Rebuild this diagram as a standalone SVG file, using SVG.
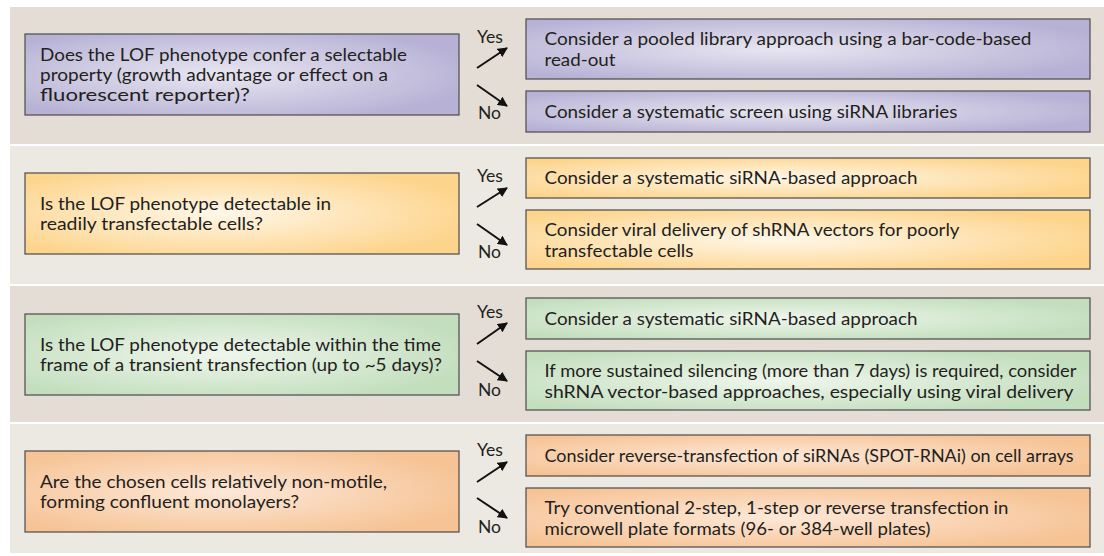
<svg xmlns="http://www.w3.org/2000/svg" width="1104" height="556" viewBox="0 0 1104 556">
<style>
.bgA{fill:#e4ddd6}
.bgB{fill:#ece9e3}
.box{stroke:#4d4a4a;stroke-width:1.2}
.t{font-family:Lato,"Open Sans","Liberation Sans",sans-serif;font-size:16.5px;fill:#231f20}
.a{font-family:Lato,"Open Sans","Liberation Sans",sans-serif;font-size:17px;fill:#231f20}
.lab{font-family:Lato,"Open Sans","Liberation Sans",sans-serif;font-size:16.5px;fill:#231f20}
.arr{stroke:#111;stroke-width:2;fill:none;marker-end:url(#ah)}
</style>
<defs>
<marker id="ah" viewBox="0 0 10 10" refX="9" refY="5" markerWidth="10" markerHeight="10" markerUnits="userSpaceOnUse" orient="auto">
<path d="M0,0 L10,5 L0,10 z" fill="#111"/>
</marker>
<radialGradient id="gP" cx="0.45" cy="0.5" r="0.6"><stop offset="0" stop-color="#e8e6f1"/><stop offset="1" stop-color="#b7b2d5"/></radialGradient>
<radialGradient id="gY" cx="0.45" cy="0.5" r="0.6"><stop offset="0" stop-color="#fff7e8"/><stop offset="1" stop-color="#fdd48c"/></radialGradient>
<radialGradient id="gG" cx="0.45" cy="0.5" r="0.6"><stop offset="0" stop-color="#eff6ec"/><stop offset="1" stop-color="#c2debd"/></radialGradient>
<radialGradient id="gO" cx="0.45" cy="0.5" r="0.6"><stop offset="0" stop-color="#fde8d8"/><stop offset="1" stop-color="#f6c395"/></radialGradient>
</defs>
<rect width="1104" height="556" fill="#ffffff"/>
<g id="panels">
<rect class="bgA" x="10" y="7" width="1094" height="137"/>
<rect class="bgB" x="10" y="146" width="1094" height="138"/>
<rect class="bgA" x="10" y="286" width="1094" height="136"/>
<rect class="bgB" x="10" y="424" width="1094" height="129"/>
</g>
<g id="q1">
<rect class="box" x="25" y="34" width="434" height="81" fill="url(#gP)"/>
<text class="t" x="40" y="60.5" textLength="367" lengthAdjust="spacingAndGlyphs">Does the LOF phenotype confer a selectable</text>
<text class="t" x="40" y="80.5" textLength="348" lengthAdjust="spacingAndGlyphs">property (growth advantage or effect on a</text>
<text class="t" x="40" y="100.5" textLength="210" lengthAdjust="spacingAndGlyphs">fluorescent reporter)?</text>
</g>
<g id="a1yes">
<rect class="box" x="526" y="19" width="564" height="60" fill="url(#gP)"/>
<text class="a" x="544.5" y="45" textLength="487" lengthAdjust="spacingAndGlyphs">Consider a pooled library approach using a bar-code-based</text>
<text class="a" x="544.5" y="66" textLength="71" lengthAdjust="spacingAndGlyphs">read-out</text>
</g>
<g id="a1no">
<rect class="box" x="526" y="91" width="564" height="41" fill="url(#gP)"/>
<text class="a" x="544.5" y="117.5" textLength="413" lengthAdjust="spacingAndGlyphs">Consider a systematic screen using siRNA libraries</text>
</g>
<g id="q2">
<rect class="box" x="25" y="173" width="434" height="81" fill="url(#gY)"/>
<text class="t" x="40" y="209.5" textLength="291" lengthAdjust="spacingAndGlyphs">Is the LOF phenotype detectable in</text>
<text class="t" x="40" y="229.5" textLength="223" lengthAdjust="spacingAndGlyphs">readily transfectable cells?</text>
</g>
<g id="a2yes">
<rect class="box" x="526" y="158" width="564" height="40" fill="url(#gY)"/>
<text class="a" x="544.5" y="184" textLength="373" lengthAdjust="spacingAndGlyphs">Consider a systematic siRNA-based approach</text>
</g>
<g id="a2no">
<rect class="box" x="526" y="210" width="564" height="59" fill="url(#gY)"/>
<text class="a" x="544.5" y="235.5" textLength="415" lengthAdjust="spacingAndGlyphs">Consider viral delivery of shRNA vectors for poorly</text>
<text class="a" x="544.5" y="256.5" textLength="149" lengthAdjust="spacingAndGlyphs">transfectable cells</text>
</g>
<g id="q3">
<rect class="box" x="25" y="314" width="434" height="81" fill="url(#gG)"/>
<text class="t" x="40" y="350.5" textLength="401" lengthAdjust="spacingAndGlyphs">Is the LOF phenotype detectable within the time</text>
<text class="t" x="40" y="370.5" textLength="402" lengthAdjust="spacingAndGlyphs">frame of a transient transfection (up to ~5 days)?</text>
</g>
<g id="a3yes">
<rect class="box" x="526" y="298" width="564" height="41" fill="url(#gG)"/>
<text class="a" x="544.5" y="324.5" textLength="373" lengthAdjust="spacingAndGlyphs">Consider a systematic siRNA-based approach</text>
</g>
<g id="a3no">
<rect class="box" x="526" y="351" width="564" height="59" fill="url(#gG)"/>
<text class="a" x="544.5" y="376.5" textLength="532" lengthAdjust="spacingAndGlyphs">If more sustained silencing (more than 7 days) is required, consider</text>
<text class="a" x="544.5" y="397.5" textLength="529" lengthAdjust="spacingAndGlyphs">shRNA vector-based approaches, especially using viral delivery</text>
</g>
<g id="q4">
<rect class="box" x="25" y="451" width="434" height="81" fill="url(#gO)"/>
<text class="t" x="40" y="487.5" textLength="347" lengthAdjust="spacingAndGlyphs">Are the chosen cells relatively non-motile,</text>
<text class="t" x="40" y="507.5" textLength="259" lengthAdjust="spacingAndGlyphs">forming confluent monolayers?</text>
</g>
<g id="a4yes">
<rect class="box" x="526" y="435" width="564" height="41" fill="url(#gO)"/>
<text class="a" x="544.5" y="461.5" textLength="529" lengthAdjust="spacingAndGlyphs">Consider reverse-transfection of siRNAs (SPOT-RNAi) on cell arrays</text>
</g>
<g id="a4no">
<rect class="box" x="526" y="488" width="564" height="59" fill="url(#gO)"/>
<text class="a" x="544.5" y="513.5" textLength="464" lengthAdjust="spacingAndGlyphs">Try conventional 2-step, 1-step or reverse transfection in</text>
<text class="a" x="544.5" y="534.5" textLength="386" lengthAdjust="spacingAndGlyphs">microwell plate formats (96- or 384-well plates)</text>
</g>
<g id="connectors">
<line class="arr" x1="477" y1="68" x2="507" y2="48"/>
<line class="arr" x1="477" y1="85" x2="507" y2="106"/>
<text class="lab" x="477" y="43" textLength="26" lengthAdjust="spacingAndGlyphs">Yes</text>
<text class="lab" x="478" y="119" textLength="23" lengthAdjust="spacingAndGlyphs">No</text>
<line class="arr" x1="477" y1="207" x2="507" y2="188"/>
<line class="arr" x1="477" y1="224" x2="507" y2="245"/>
<text class="lab" x="477" y="182" textLength="26" lengthAdjust="spacingAndGlyphs">Yes</text>
<text class="lab" x="478" y="258" textLength="23" lengthAdjust="spacingAndGlyphs">No</text>
<line class="arr" x1="477" y1="344" x2="507" y2="323"/>
<line class="arr" x1="477" y1="361" x2="507" y2="381"/>
<text class="lab" x="477" y="318" textLength="26" lengthAdjust="spacingAndGlyphs">Yes</text>
<text class="lab" x="478" y="396" textLength="23" lengthAdjust="spacingAndGlyphs">No</text>
<line class="arr" x1="477" y1="482" x2="507" y2="462"/>
<line class="arr" x1="477" y1="498" x2="507" y2="518"/>
<text class="lab" x="477" y="456" textLength="26" lengthAdjust="spacingAndGlyphs">Yes</text>
<text class="lab" x="478" y="533" textLength="23" lengthAdjust="spacingAndGlyphs">No</text>
</g>
</svg>
